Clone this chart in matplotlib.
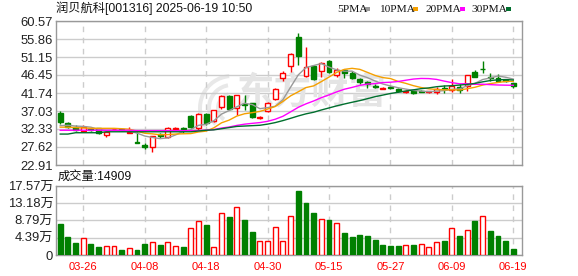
import matplotlib
matplotlib.use('Agg')
import matplotlib.pyplot as plt
from matplotlib.patches import Rectangle, Wedge
from matplotlib.transforms import IdentityTransform
import numpy as np
import pandas as pd

plt.rcParams['font.family'] = ['Liberation Sans', 'Noto Sans CJK SC', 'DejaVu Sans']

# --- data ---
dates = ['03-21', '03-24', '03-25', '03-26', '03-27', '03-28', '03-31',
         '04-01', '04-02', '04-03', '04-07', '04-08', '04-09', '04-10', '04-11',
         '04-14', '04-15', '04-16', '04-17', '04-18', '04-21', '04-22', '04-23',
         '04-24', '04-25', '04-28', '04-29', '04-30',
         '05-06', '05-07', '05-08', '05-09', '05-12', '05-13', '05-14', '05-15',
         '05-16', '05-19', '05-20', '05-21', '05-22', '05-23', '05-26', '05-27',
         '05-28', '05-29', '05-30',
         '06-03', '06-04', '06-05', '06-06', '06-09', '06-10', '06-11', '06-12',
         '06-13', '06-16', '06-17', '06-18', '06-19']
opens = [36.4, 33.8, 32.8, 31.8, 32.2, 32.5, 30.8, 32.2, 32.2, 31.3,
         28.9, 28.1, 27.6, 30.9, 30.2, 32.4, 32.5, 35.8, 32.5, 36.3,
         34.5, 38.0, 40.9, 37.7, 38.9, 39.0, 35.2, 37.0, 40.2, 45.6,
         48.9, 56.3, 46.2, 48.7, 47.6, 50.1, 46.4, 47.8, 47.1, 45.3,
         44.7, 43.6, 42.8, 43.3, 42.9, 41.9, 42.5, 42.2, 41.9, 42.1,
         43.0, 42.6, 43.4, 43.7, 47.3, 48.1, 45.9, 45.6, 45.1, 44.3]
highs = [37.1, 34.2, 33.4, 33.5, 32.5, 32.6, 31.6, 32.6, 32.3, 32.9,
         31.5, 28.6, 30.6, 31.4, 32.9, 32.8, 32.8, 36.0, 36.4, 36.6,
         37.4, 41.2, 41.1, 41.3, 41.2, 39.2, 35.8, 39.4, 43.1, 47.4,
         52.1, 57.5, 53.7, 48.9, 49.9, 50.5, 48.3, 48.1, 47.5, 45.6,
         45.0, 44.1, 43.2, 43.5, 43.0, 42.4, 42.6, 42.4, 42.3, 43.2,
         43.8, 45.5, 44.0, 46.5, 47.8, 50.1, 47.0, 46.6, 45.5, 44.4]
lows = [33.6, 32.5, 31.8, 31.5, 31.8, 31.1, 30.3, 32.1, 31.8, 31.2,
        28.7, 27.1, 26.2, 30.1, 30.0, 32.3, 31.4, 32.5, 32.1, 33.5,
        34.2, 37.5, 37.4, 36.0, 37.4, 35.3, 35.0, 36.8, 40.0, 45.0,
        47.2, 49.1, 46.0, 45.1, 45.8, 47.0, 45.9, 45.6, 45.3, 44.0,
        43.1, 43.0, 42.7, 42.8, 42.0, 41.8, 41.4, 41.9, 41.8, 41.5,
        41.7, 41.9, 41.7, 42.3, 45.9, 46.9, 44.9, 44.7, 44.6, 43.0]
closes = [34.1, 32.9, 32.1, 32.9, 32.0, 31.2, 31.5, 32.4, 32.0, 31.6,
          28.75, 27.7, 30.5, 30.5, 32.5, 32.6, 32.2, 32.9, 36.2, 33.9,
          37.2, 40.9, 37.6, 41.1, 38.5, 35.5, 35.5, 39.0, 42.9, 47.1,
          51.9, 51.5, 48.6, 45.5, 49.7, 47.3, 47.8, 46.9, 45.6, 44.5,
          44.0, 43.4, 43.0, 43.0, 42.2, 42.2, 41.7, 42.1, 42.2, 42.9,
          42.9, 43.5, 42.5, 46.4, 46.0, 47.9, 45.6, 45.0, 44.8, 43.6]
# volume in 万 shares, colour as drawn (r = up, g = down)
volumes = [7.9, 4.66, 3.13, 4.25, 2.8, 2.04, 2.3, 2.3, 1.27, 1.7,
           1.27, 2.8, 3.3, 2.55, 3.3, 2.3, 2.0, 6.8, 8.66, 7.64,
           1.95, 10.6, 9.6, 12.1, 8.9, 5.86, 3.56, 3.56, 7.04, 3.56,
           9.93, 16.3, 13.24, 10.7, 9.08, 8.9, 8.06, 5.69, 4.58, 5.09,
           4.84, 3.82, 2.55, 2.29, 2.29, 2.46, 2.46, 2.8, 1.95, 3.31,
           3.56, 6.8, 4.84, 6.37, 8.66, 9.93, 6.11, 4.84, 3.56, 1.49]
vol_dir = list('gggrggrrgrggrgrrgrrgrrgrggrrrrrgggrgrggggggggrgrrrgrgrgrgggg')

# moving-average values before the window is full
ma_heads = {
    5: [33.2, 33.3, 33.1, 33.0],
    10: [32.8, 32.8, 32.7, 32.6, 32.5, 32.5, 32.5, 32.5, 32.4],
    20: [32.0, 32.0, 32.0, 32.0, 32.0, 32.0, 32.0, 32.0, 32.0, 32.0,
         31.9, 31.9, 31.9, 31.9, 31.9, 31.9, 31.9, 31.9, 31.9],
    30: [31.0, 31.0, 31.35, 31.35, 31.35, 31.35, 31.6, 31.6, 31.6, 31.6,
         31.6, 31.6, 31.6, 31.6, 31.6, 31.6, 31.6, 31.6, 31.8, 32.0,
         32.1, 32.4, 32.7, 33.0, 33.1, 33.2, 33.3, 33.6, 34.0],
}
ma_colors = {5: '#999999', 10: '#f5a000', 20: '#ff00ff', 30: '#006f2e'}

tick_dates = ['03-26', '04-08', '04-18', '04-30', '05-15', '05-27', '06-09', '06-19']
price_ticks = [22.91, 27.62, 32.33, 37.03, 41.74, 46.45, 51.15, 55.86, 60.57]
vol_ticks = [0, 4.39, 8.79, 13.18, 17.57]
vol_tick_labels = ['0', '4.39万', '8.79万', '13.18万', '17.57万']

title = '润贝航科[001316] 2025-06-19 10:50'
vol_title = '成交量:14909'

RED = '#ff0000'
GREEN = '#008000'
W, H = 578, 276

fig = plt.figure(figsize=(W / 100, H / 100), dpi=100)
ax1 = fig.add_axes([56 / W, 1 - 165 / H, 466 / W, 144 / H])
ax2 = fig.add_axes([56 / W, 1 - 255 / H, 466 / W, 69 / H])

x = np.arange(len(dates))
tick_pos = [dates.index(d) for d in tick_dates]

for ax in (ax1, ax2):
    ax.set_xlim(-0.55, 60.13)
    ax.set_xticks(tick_pos)
    ax.grid(axis='x', color='#cccccc', lw=1, ls=(0, (4, 4)), zorder=0)
    ax.grid(axis='y', color='#cccccc', lw=1, ls='-', zorder=0)
    for s in ax.spines.values():
        s.set_color('#999999')
        s.set_linewidth(1)
    ax.tick_params(length=0)
    ax.set_axisbelow(True)

# --- price panel ---
ax1.set_ylim(price_ticks[0], price_ticks[-1])
ax1.set_yticks(price_ticks)
ax1.set_yticklabels(['%.2f' % v for v in price_ticks], fontsize=9.4, color='#222222')
ax1.tick_params(axis='y', pad=2)
ax1.set_xticklabels([])
ax1.patch.set_alpha(0)

# watermark (small logo swoosh behind the axes + name), pixel coords from bottom-left
for r, th1, th2 in [(34, 95, 215), (25, 100, 225), (16, 105, 235)]:
    fig.patches.append(Wedge((232, H - 108), r, th1, th2, width=4,
                             facecolor='#e8e8e8', edgecolor='none',
                             transform=IdentityTransform(), figure=fig, zorder=-1))
ax1.text(0.548, 0.50, '东方财富', transform=ax1.transAxes, fontsize=27,
         fontweight='bold', color='#e4e4e4', ha='center', va='center',
         family=['Noto Sans CJK SC'], zorder=1)

body_w = 0.64
for i in x:
    o, h, l, c = opens[i], highs[i], lows[i], closes[i]
    up = c > o
    col = RED if up else GREEN
    lo_b, hi_b = min(o, c), max(o, c)
    ax1.vlines(i, l, lo_b, color=col, lw=1, zorder=2)
    ax1.vlines(i, hi_b, h, color=col, lw=1, zorder=2)
    hgt = max(hi_b - lo_b, 0.08)
    ax1.add_patch(Rectangle((i - body_w / 2, lo_b), body_w, hgt,
                            facecolor='white' if up else GREEN,
                            edgecolor=col, lw=1, zorder=3))

close_s = pd.Series(closes)
for n, head in ma_heads.items():
    ma = close_s.rolling(n).mean().to_numpy()
    ma[:len(head)] = head
    ax1.plot(x, ma, color=ma_colors[n], lw=1, zorder=4)

# --- volume panel ---
ax2.set_ylim(0, vol_ticks[-1])
ax2.set_yticks(vol_ticks)
ax2.set_yticklabels(vol_tick_labels, fontsize=9.4, color='#222222')
ax2.tick_params(axis='y', pad=2)
ax2.set_xticklabels(tick_dates, fontsize=8, color=RED)
ax2.tick_params(axis='x', pad=5)
for i in x:
    up = vol_dir[i] == 'r'
    ax2.bar(i, volumes[i], width=body_w, facecolor='white' if up else GREEN,
            edgecolor=RED if up else GREEN, lw=1, zorder=3)

# --- header texts ---
fig.text(56 / W, 1 - 8 / H, title, fontsize=8.8, color='#111111', va='center', ha='left')
fig.text(58 / W, 1 - 177 / H, vol_title, fontsize=8.8, color='#111111', va='center', ha='left')

legend_items = [('5PMA', 5, 337, 365), ('10PMA', 10, 379, 413),
                ('20PMA', 20, 425, 460), ('30PMA', 30, 471, 506)]
for label, n, tx, sx in legend_items:
    fig.text(tx / W, 1 - 9 / H, label, fontsize=8.2, color='#111111',
             va='center', ha='left', family=['Liberation Serif'])
    fig.patches.append(Rectangle((sx / W, 1 - 11 / H), 5 / W, 4 / H,
                                 facecolor=ma_colors[n], edgecolor='none',
                                 transform=fig.transFigure, figure=fig))

fig.savefig('out.png', dpi=100)
